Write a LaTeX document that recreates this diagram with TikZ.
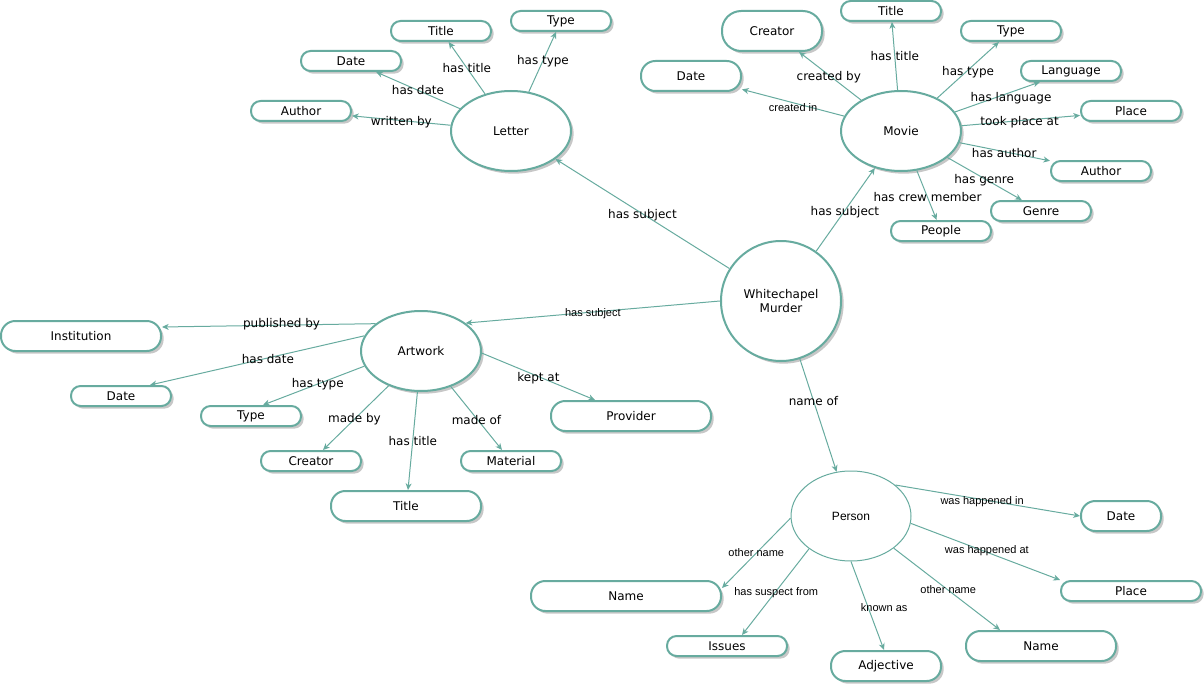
\documentclass[tikz,border=0pt]{standalone}
\usepackage{fontspec}
\setmainfont{DejaVu Sans}
\newfontfamily\hv{Liberation Sans}
\usetikzlibrary{shapes.geometric,shadows,arrows.meta}
\definecolor{tealc}{HTML}{67AB9F}
\begin{document}
\begin{tikzpicture}[x=0.75pt,y=-0.75pt,
  shd/.style={drop shadow={shadow xshift=2pt,shadow yshift=-2pt,fill=black!22,opacity=1}},
  ell/.style={ellipse,draw=tealc,line width=1.5pt,fill=white,inner sep=0pt,
    minimum width=90pt,minimum height=60pt,font=\fontsize{9}{11}\selectfont,shd},
  bx/.style 2 args={draw=tealc,line width=1.5pt,fill=white,inner sep=0pt,
    minimum width=#1*0.75pt,minimum height=#2*0.75pt,rounded corners=#2*0.36pt,
    font=\fontsize{9}{11}\selectfont,shd},
  ar/.style={draw=tealc,line width=0.75pt,-{Stealth[length=5pt,width=4.5pt,inset=1.5pt]}},
  lab/.style={font=\fontsize{9}{11}\selectfont,inner sep=1pt,text=black},
  slab/.style={font=\hv\fontsize{8.25}{10}\selectfont,inner sep=1pt,text=black}]
\useasboundingbox (0,0) rectangle (1204,685);

% Letter
\node[ell] (let) at (511,131) {Letter};
\node[bx={100}{20}] (ltitle) at (441,31) {Title};
\node[bx={100}{20}] (ltype) at (561,21) {Type};
\node[bx={100}{20}] (ldate) at (351,61) {Date};
\node[bx={100}{20}] (lauth) at (301,111) {Author};

% Movie
\node[ell] (mov) at (901,131) {Movie};
\node[bx={100}{40}] (mcre) at (772,31) {Creator};
\node[bx={100}{20}] (mtitle) at (891,11) {Title};
\node[bx={100}{20}] (mtype) at (1011,31) {Type};
\node[bx={100}{30}] (mdate) at (691,76) {Date};
\node[bx={100}{20}] (mlang) at (1071,71) {Language};
\node[bx={100}{20}] (mplace) at (1131,111) {Place};
\node[bx={100}{20}] (mauth) at (1101,171) {Author};
\node[bx={100}{20}] (mgenre) at (1041,211) {Genre};
\node[bx={100}{20}] (mpeople) at (941,231) {People};

% Whitechapel
\node[ell,circle,minimum size=90pt,align=center] (wm) at (781,301) {Whitechapel\\Murder};

% Artwork
\node[ell] (art) at (421,351) {Artwork};
\node[bx={160}{30}] (ainst) at (81,336) {Institution};
\node[bx={100}{20}] (adate) at (121,396) {Date};
\node[bx={100}{20}] (atype) at (251,416) {Type};
\node[bx={100}{20}] (acre) at (311,461) {Creator};
\node[bx={150}{30}] (atitle) at (406,506) {Title};
\node[bx={100}{20}] (amat) at (511,461) {Material};
\node[bx={160}{30}] (aprov) at (631,416) {Provider};

% Person
\node[ellipse,draw=tealc,line width=0.75pt,fill=white,inner sep=0pt,
  minimum width=90pt,minimum height=67.5pt,font=\hv\fontsize{9}{11}\selectfont] (per) at (851,516) {Person};
\node[bx={80}{30}] (pdate) at (1121,516) {Date};
\node[bx={140}{20}] (pplace) at (1131,591) {Place};
\node[bx={190}{30}] (pname1) at (626,596) {Name};
\node[bx={120}{20}] (piss) at (727,646) {Issues};
\node[bx={110}{30}] (padj) at (886,666) {Adjective};
\node[bx={150}{30}] (pname2) at (1041,646) {Name};

% Letter edges
\draw[ar] (let) -- node[lab,pos=.5]{has title} (ltitle);
\draw[ar] (let) -- node[lab,pos=.52]{has type} (ltype);
\draw[ar] (let) -- node[lab,pos=.5]{has date} (ldate);
\draw[ar] (let) -- node[lab,pos=.5,yshift=-1.5pt]{written by} (lauth);

% Movie edges
\draw[ar] (mov) -- node[lab,pos=.52,yshift=-1.5pt]{created by} (mcre);
\draw[ar] (mov) -- node[lab,pos=.5]{has title} (mtitle);
\draw[ar] (mov) -- node[lab,pos=.5,yshift=-1.5pt]{has type} (mtype);
\draw[ar] (mov) -- node[lab,pos=.66,yshift=-4.5pt]{has language} (mlang);
\draw[ar] (mov) -- node[lab,pos=.49,yshift=-1.5pt]{took place at} (mplace);
\draw[ar] (mov) -- node[lab,pos=.45,xshift=3pt,yshift=-1.5pt]{has author} (mauth);
\draw[ar] (mov) -- node[lab,pos=.44,xshift=3pt,yshift=-3pt]{has genre} (mgenre);
\draw[ar] (mov) -- node[lab,pos=.54]{has crew member} (mpeople);
\draw[ar] (mov) -- node[slab,pos=.5,yshift=-3.5pt]{created in} (mdate);

% Whitechapel edges
\draw[ar] (wm) -- node[lab,pos=.5,yshift=-1pt]{has subject} (let);
\draw[ar] (wm) -- node[lab,pos=.49,yshift=-1pt]{has subject} (mov);
\draw[ar] (wm.west) -- node[slab,pos=.5,yshift=-1.5pt]{has subject} (art.32);
\draw[ar] (wm) -- node[lab,pos=.37]{name of} (per);

% Artwork edges
\draw[ar] (art.149) -- node[lab,pos=.44,yshift=1pt]{published by} ([yshift=6.75pt]ainst.east);
\draw[ar] (art.165) -- node[lab,pos=.45,yshift=-1pt]{has date} ([xshift=21.75pt]adate.north);
\draw[ar] (art.195) -- node[lab,pos=.46]{has type} ([xshift=9pt]atype.north);
\draw[ar] (art.227) -- node[lab,pos=.52]{made by} ([xshift=9pt]acre.north);
\draw[ar] (art.265) -- node[lab,pos=.49,yshift=-1pt]{has title} ([xshift=1.5pt]atitle.north);
\draw[ar] (art.310) -- node[lab,pos=.5,yshift=-1pt]{made of} ([xshift=-6.75pt]amat.north);
\draw[ar] (art.358) -- node[lab,pos=.5,yshift=-1.5pt]{kept at} ([xshift=-27pt]aprov.north);

% Person edges
\draw[ar] (per.35) -- node[slab,pos=.47,yshift=-1.5pt]{was happened in} (pdate.west);
\draw[ar] (per.353) -- node[slab,pos=.51,yshift=1.5pt]{was happened at} (pplace.north west);
\draw[ar] (per.182) -- node[slab,pos=.5]{other name} ([yshift=6pt]pname1.east);
\draw[ar] (per.218) -- node[slab,pos=.51,xshift=1pt]{has suspect from} ([xshift=11.25pt]piss.north);
\draw[ar] (per.south) -- node[slab,pos=.52,xshift=12pt]{known as} ([xshift=-1.5pt]padj.north);
\draw[ar] (per.323) -- node[slab,pos=.5,xshift=1pt]{other name} ([xshift=-30.75pt]pname2.north);
\end{tikzpicture}
\end{document}
